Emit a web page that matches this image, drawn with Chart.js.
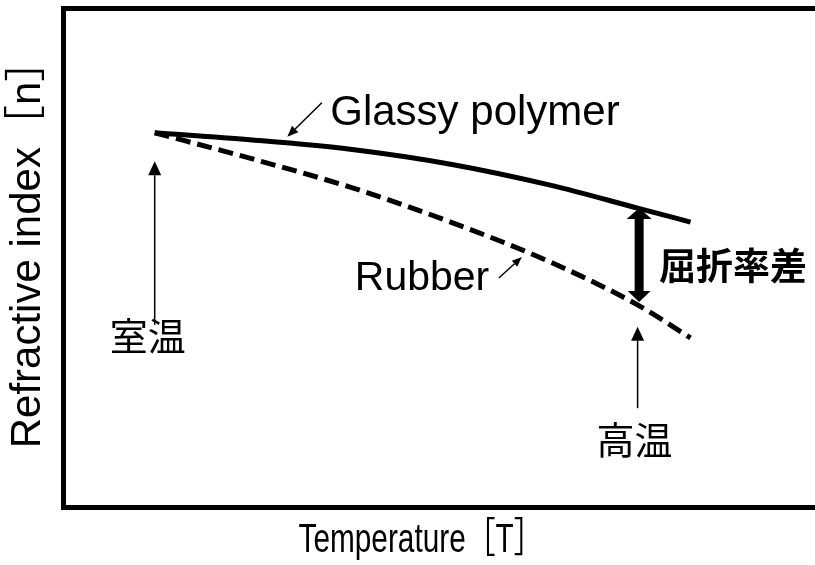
<!DOCTYPE html>
<html>
<head>
<meta charset="utf-8">
<script src="https://cdn.jsdelivr.net/npm/chart.js@4.4.1/dist/chart.umd.min.js"></script>
<style>
html,body{margin:0;padding:0;background:#fff;overflow:hidden;}
#wrap{position:relative;width:840px;height:565px;}
</style>
</head>
<body>
<div id="wrap"><canvas id="c" width="840" height="565"></canvas></div>
<script>
// ---- data (arbitrary units) ----
const temperature   = [11.9, 24.3, 37.4, 50.5, 63.5, 74.9, 81.8];
const glassyPolymer = [75.1, 73.7, 71.8, 68.8, 64.6, 60.0, 57.2];
const rubber        = [75.1, 70.0, 64.2, 57.2, 49.2, 40.6, 34.0];
const xTitle = 'Temperature［T］';
const yTitle = 'Refractive index［n］';
const labelGlassy = 'Glassy polymer';
const labelRubber = 'Rubber';
const labelRoom = '室温';
const labelHigh = '高温';
const labelDiff = '屈折率差';

// ---- annotations (in data units) ----
const annotations = {
  thinArrows: [
    {from:[11.9, 36.6], to:[11.9, 69.4], head:14, hw:13, lw:1.5},
    {from:[74.9, 19.9], to:[74.9, 36.2], head:14, hw:13, lw:1.5},
    {from:[33.7, 81.1], to:[29.2, 74.3], head:11, hw:9, lw:1.5},
    {from:[56.8, 46.0], to:[59.8, 50.2], head:10, hw:8, lw:1.5}
  ],
  doubleArrow: {x:75.1, y1:60.0, y2:41.2},
  texts: [
    {t:labelGlassy, x:34.8, y:76.7, align:'left', base:'alphabetic', font:'42px "Liberation Sans", Arial, sans-serif'},
    {t:labelRubber, x:38.0, y:43.6, align:'left', base:'alphabetic', font:'41px "Liberation Sans", Arial, sans-serif'},
    {t:labelRoom, x:11.0, y:34.4, align:'center', base:'middle', font:'38px "Noto Sans CJK JP", sans-serif'},
    {t:labelHigh, x:74.5, y:13.6, align:'center', base:'middle', font:'38px "Noto Sans CJK JP", sans-serif'},
    {t:labelDiff, x:87.35, y:48.4, align:'center', base:'middle', font:'bold 37px "Noto Sans CJK JP", sans-serif'}
  ]
};

const points = arr => temperature.map((t,i)=>({x:t, y:arr[i]}));

function arrowHead(ctx, x1,y1,x2,y2, len, hw){
  const ang = Math.atan2(y2-y1, x2-x1);
  const bx = x2 - len*Math.cos(ang), by = y2 - len*Math.sin(ang);
  const px = -Math.sin(ang)*hw/2, py = Math.cos(ang)*hw/2;
  ctx.beginPath();
  ctx.moveTo(x2,y2);
  ctx.lineTo(bx+px, by+py);
  ctx.lineTo(bx-px, by-py);
  ctx.closePath();
  ctx.fill();
  return [bx,by];
}

const annotPlugin = {
  id:'annot',
  afterDatasetsDraw(chart){
    const {ctx, chartArea:a, scales:{x, y}} = chart;
    const X = v => x.getPixelForValue(v), Y = v => y.getPixelForValue(v);
    ctx.save();
    ctx.fillStyle = '#000'; ctx.strokeStyle = '#000';
    // frame
    ctx.lineWidth = 5;
    ctx.strokeRect(a.left, a.top, a.right-a.left, a.bottom-a.top);
    // thin arrows
    annotations.thinArrows.forEach(ar=>{
      const x1=X(ar.from[0]), y1=Y(ar.from[1]), x2=X(ar.to[0]), y2=Y(ar.to[1]);
      const [bx,by] = arrowHead(ctx,x1,y1,x2,y2,ar.head,ar.hw);
      ctx.lineWidth = ar.lw;
      ctx.beginPath(); ctx.moveTo(x1,y1); ctx.lineTo(bx,by); ctx.stroke();
    });
    // double arrow
    const d = annotations.doubleArrow;
    const dx = X(d.x), dy1 = Y(d.y1), dy2 = Y(d.y2);
    const [, b1] = arrowHead(ctx, dx, dy2, dx, dy1, 11, 25);
    const [, b2] = arrowHead(ctx, dx, dy1, dx, dy2, 11, 23);
    ctx.fillRect(dx-4.5, b1-0.5, 9, b2-b1+1);
    // texts
    annotations.texts.forEach(tx=>{
      ctx.font = tx.font; ctx.textAlign = tx.align; ctx.textBaseline = tx.base;
      ctx.fillText(tx.t, X(tx.x), Y(tx.y));
    });
    // x axis title (condensed, as in the reference)
    ctx.font = '41px "Liberation Sans", Arial, "Noto Sans CJK JP", sans-serif';
    ctx.textAlign = 'center'; ctx.textBaseline = 'middle';
    const w = ctx.measureText(xTitle).width;
    ctx.save();
    ctx.translate(421, a.bottom + 33);
    ctx.scale(245 / w, 1);
    ctx.fillText(xTitle, 0, 0);
    ctx.restore();
    // y axis title
    ctx.font = '42px "Liberation Sans", Arial, "Noto Sans CJK JP", sans-serif';
    ctx.save();
    ctx.translate(28, (a.top+a.bottom)/2 - 14);
    ctx.rotate(-Math.PI/2);
    ctx.fillText(yTitle, 0, 0);
    ctx.restore();
    ctx.restore();
  }
};

new Chart(document.getElementById('c'), {
  type:'line',
  data:{
    datasets:[
      {label:labelGlassy, data:points(glassyPolymer), borderColor:'#000', borderWidth:5,
       pointRadius:0, cubicInterpolationMode:'monotone', fill:false, order:0},
      {label:labelRubber, data:points(rubber), borderColor:'#000', borderWidth:5,
       borderDash:[15,7], pointRadius:0, cubicInterpolationMode:'monotone', fill:false, order:1}
    ]
  },
  options:{
    responsive:false, animation:false, devicePixelRatio:1,
    layout:{padding:{left:63.5, top:8.5, right:10, bottom:57.5}},
    plugins:{legend:{display:false}, tooltip:{enabled:false}},
    scales:{
      x:{type:'linear', min:0, max:100, display:false},
      y:{type:'linear', min:0, max:100, display:false}
    }
  },
  plugins:[annotPlugin]
});
</script>
</body>
</html>
